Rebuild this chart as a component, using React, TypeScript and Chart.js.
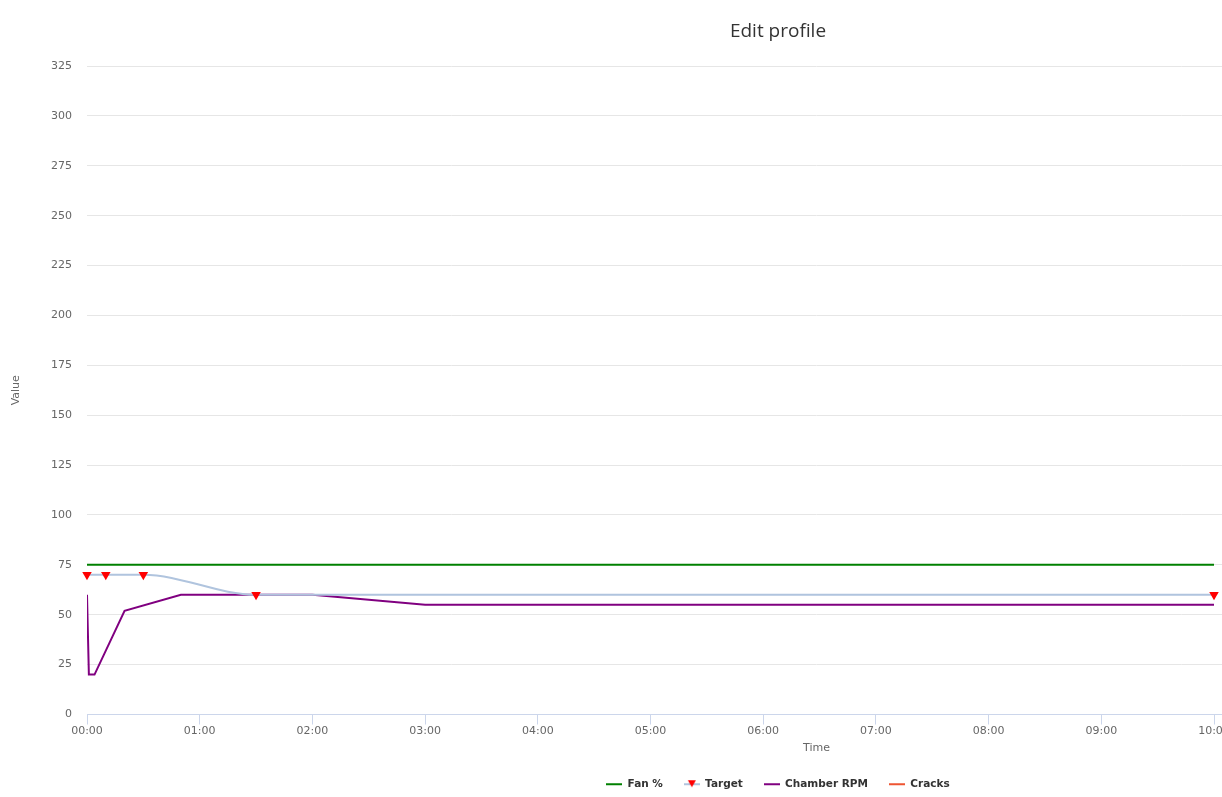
import React, { useEffect, useRef } from 'react';
import { Chart, registerables } from 'chart.js';

Chart.register(...registerables);

// ---- data ----
const fanTimes = [0, 600];
const fanValues = [75, 75];
const targetTimes = [0, 10, 30, 90, 600];
const targetValues = [70, 70, 70, 60, 60];
const rpmTimes = [0, 1, 4, 20, 50, 120, 180, 600];
const rpmValues = [60, 20, 20, 52, 60, 60, 55, 55];
const crackTimes: number[] = [];
const crackValues: number[] = [];
const seriesLabels = ['Fan %', 'Target', 'Chamber RPM', 'Cracks'];
const seriesColors = ['#008000', '#b0c4de', '#800080', '#ee5532'];
const yTicks = [0, 25, 50, 75, 100, 125, 150, 175, 200, 225, 250, 275, 300, 325];
const xTickSeconds = [0, 60, 120, 180, 240, 300, 360, 420, 480, 540, 600, 660, 720];
const X_AXIS_MAX = 776.75;

const pts = (xs: number[], ys: number[]) => xs.map((x, i) => ({ x, y: ys[i] }));
const fmt = (s: number) => {
  const m = Math.floor(s / 60);
  const sec = Math.round(s % 60);
  return String(m).padStart(2, '0') + ':' + String(sec).padStart(2, '0');
};

function legendIcon(color: string, marker: boolean) {
  const c = document.createElement('canvas');
  c.width = 16;
  c.height = 12;
  const g = c.getContext('2d')!;
  g.strokeStyle = color;
  g.lineWidth = 2;
  g.beginPath();
  g.moveTo(0, 6);
  g.lineTo(16, 6);
  g.stroke();
  if (marker) {
    g.fillStyle = '#ff0000';
    g.beginPath();
    g.moveTo(4, 2);
    g.lineTo(12, 2);
    g.lineTo(8, 9);
    g.closePath();
    g.fill();
  }
  return c;
}

export default function App() {
  const ref = useRef<HTMLCanvasElement>(null);
  useEffect(() => {
    const base = 'DejaVu Sans';
    const chart = new Chart(ref.current!, {
      type: 'line',
      data: {
        datasets: [
          {
            label: seriesLabels[0],
            data: pts(fanTimes, fanValues),
            borderColor: seriesColors[0],
            backgroundColor: seriesColors[0],
            borderWidth: 2,
            pointRadius: 0,
          },
          {
            label: seriesLabels[1],
            data: pts(targetTimes, targetValues),
            borderColor: seriesColors[1],
            backgroundColor: '#ff0000',
            borderWidth: 2,
            cubicInterpolationMode: 'monotone',
            pointStyle: 'triangle',
            rotation: 180,
            pointRadius: 5.5,
            pointBorderWidth: 0,
            pointBackgroundColor: '#ff0000',
            pointBorderColor: '#ff0000',
            clip: false,
          },
          {
            label: seriesLabels[2],
            data: pts(rpmTimes, rpmValues),
            borderColor: seriesColors[2],
            backgroundColor: seriesColors[2],
            borderWidth: 2,
            pointRadius: 0,
          },
          {
            label: seriesLabels[3],
            data: pts(crackTimes, crackValues),
            borderColor: seriesColors[3],
            backgroundColor: seriesColors[3],
            borderWidth: 2,
            pointRadius: 0,
          },
        ],
      },
      options: {
        responsive: false,
        animation: false,
        layout: { padding: { left: 10, right: 10, top: 0, bottom: -2.5 } },
        plugins: {
          title: {
            display: true,
            text: 'Edit profile',
            color: '#333333',
            font: { family: 'Open Sans', size: 19, weight: 'normal' },
            padding: { top: 20, bottom: 23.2 },
          },
          legend: {
            position: 'bottom',
            labels: {
              usePointStyle: true,
              pointStyleWidth: 16,
              boxHeight: 11,
              padding: 21,
              color: '#333333',
              font: { family: base, size: 10.5, weight: 'bold' },
              generateLabels: (ch: any) =>
                ch.data.datasets.map((ds: any, i: number) => ({
                  text: ds.label,
                  pointStyle: legendIcon(seriesColors[i], i === 1),
                  fillStyle: seriesColors[i],
                  strokeStyle: seriesColors[i],
                  lineWidth: 0,
                  hidden: false,
                  datasetIndex: i,
                  fontColor: '#333333',
                })),
            },
          },
          tooltip: { enabled: false },
        },
        scales: {
          x: {
            type: 'linear',
            min: 0,
            max: X_AXIS_MAX,
            afterBuildTicks: (s: any) => {
              s.ticks = xTickSeconds.map((v) => ({ value: v }));
            },
            afterFit: (s: any) => {
              s.height = 43.5;
            },
            grid: {
              drawOnChartArea: false,
              drawTicks: true,
              tickLength: 10,
              color: '#ccd6eb',
            },
            border: { color: '#ccd6eb', width: 1 },
            ticks: {
              color: '#666666',
              font: { family: base, size: 11 },
              padding: 0,
              maxRotation: 0,
              autoSkip: false,
              callback: (v: any) => fmt(Number(v)),
            },
            title: {
              display: true,
              text: 'Time',
              color: '#666666',
              font: { family: base, size: 11 },
              padding: { top: 0, bottom: 3 },
            },
          },
          y: {
            min: 0,
            max: 325,
            afterBuildTicks: (s: any) => {
              s.ticks = yTicks.map((v) => ({ value: v }));
            },
            afterFit: (s: any) => {
              s.width = 77;
            },
            grid: { color: '#e6e6e6', drawTicks: false, lineWidth: 1 },
            border: { display: false },
            ticks: {
              color: '#666666',
              font: { family: base, size: 11 },
              padding: 15,
            },
            title: {
              display: true,
              text: 'Value',
              color: '#666666',
              font: { family: base, size: 11 },
              padding: { top: -0.5, bottom: 0 },
            },
          },
        },
      } as any,
    });
    return () => chart.destroy();
  }, []);

  return (
    <div
      style={{
        position: 'fixed',
        left: 0,
        top: 0,
        width: 1222,
        height: 797,
        overflow: 'hidden',
        background: '#ffffff',
      }}
    >
      <canvas ref={ref} width={1556} height={797} style={{ display: 'block' }} />
    </div>
  );
}
